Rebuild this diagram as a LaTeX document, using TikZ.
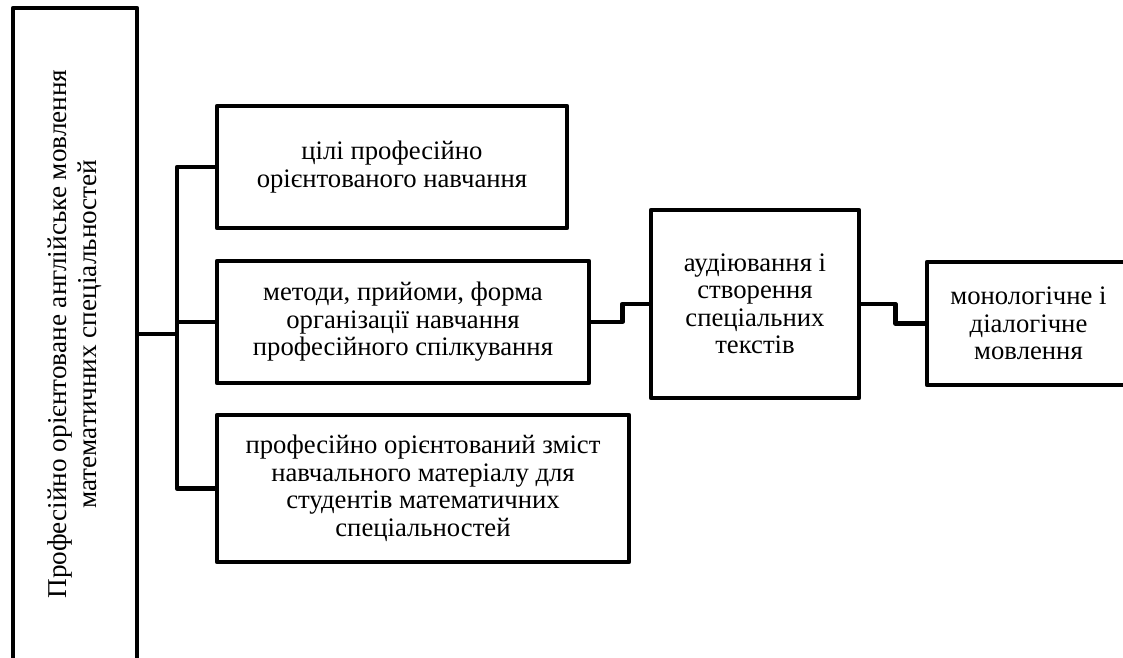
\documentclass[tikz,border=0pt]{standalone}
\usepackage{fontspec}
\setmainfont{Liberation Serif}
\usepackage{tikz}
\usetikzlibrary{positioning,calc}
\tikzset{
    x=1pt,
    y=-1pt,
    block/.style = {
        draw,
        shape=rectangle,
        align=center,
        inner sep=2pt,
        line width=4.5pt,
        line join=round,
        font=\fontsize{26.7}{27.5}\selectfont
    },
    link/.style = {
        line width=4.5pt,
        line join=round
    },
}

\begin{document}
\begin{tikzpicture}
            \useasboundingbox (0,0) rectangle (1123,657);
            \node[block, rotate=90, minimum width=652pt, minimum height=124pt,
                font=\fontsize{27.2}{30}\selectfont] (main) at (75,334)
                {Професійно орієнтоване англійське мовлення\\математичних спеціальностей};
            \node[block, minimum width=350pt, minimum height=122pt] (goal) at (392,167)
                {цілі професійно\\орієнтованого навчання};
            \node[block, minimum width=372pt, minimum height=122pt] (methods) at (403,322)
                {методи, прийоми, форма\\організації навчання\\професійного спілкування};
            \node[block, minimum width=412pt, minimum height=147pt] (content) at (423,488.5)
                {професійно орієнтований зміст\\навчального матеріалу для\\студентів математичних\\спеціальностей};
            \node[block, minimum width=208pt, minimum height=188pt] (listen) at (755,304)
                {аудіювання і\\створення\\спеціальних\\текстів};
            \node[block, minimum width=203pt, minimum height=123pt] (speech) at (1028.5,323.5)
                {монологічне і\\діалогічне\\мовлення};

            \coordinate (fork) at (177,334);
            \path[draw, link] (main.south) -- (fork);
            \path[draw, link] (goal.west) -| (fork);
            \path[draw, link] (methods.west) -| (fork);
            \path[draw, link] (content.west) -| (fork);
            \path[draw, link] (methods.east) -- ++(31,0) |- (listen.west);
            \path[draw, link] (listen.east) -- ++(34,0) |- (speech.west);
        \end{tikzpicture}
\end{document}
